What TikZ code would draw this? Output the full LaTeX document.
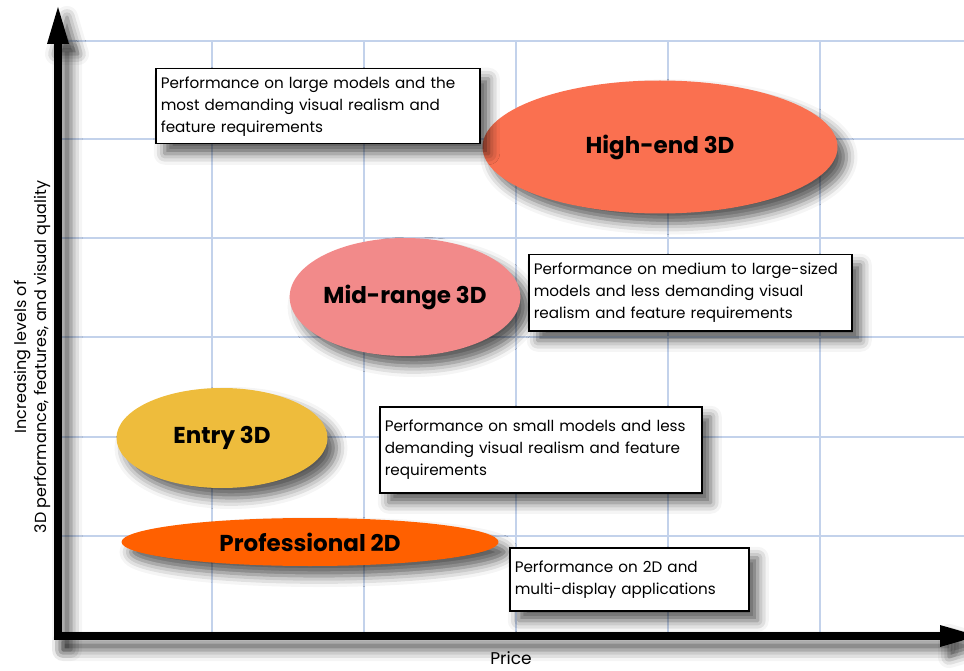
\documentclass[tikz,border=0pt]{standalone}
\usepackage{fontspec}
\setmainfont{Poppins}
\usetikzlibrary{shapes.geometric, shadows.blur}

\definecolor{gridblue}{RGB}{195,210,235}
\definecolor{highend}{RGB}{250,112,80}
\definecolor{midrange}{RGB}{242,138,138}
\definecolor{entry}{RGB}{238,188,60}
\definecolor{protwod}{RGB}{255,96,0}

\begin{document}
\begin{tikzpicture}[x=1pt, y=-1pt, thick]
    \tikzstyle{soft}=[blur shadow={shadow xshift=9pt, shadow yshift=-10pt, shadow blur radius=11pt, shadow opacity=65}]
    \tikzstyle{blob}=[ellipse, soft, inner sep=0pt, font=\fontsize{23}{26}\selectfont\bfseries]
    \tikzstyle{note}=[draw=black, line width=1.5pt, fill=white, soft, anchor=north west, align=left, inner sep=5pt, font=\fontsize{15.2}{22}\selectfont]

    \useasboundingbox (0, 0) rectangle (964, 671);

    % grid
    \foreach \y in {41, 139, 238, 337, 437, 536}
        \draw[gridblue, line width=1.5pt] (58, \y) -- (964, \y);
    \foreach \x in {212, 364, 516, 668, 820}
        \draw[gridblue, line width=1.5pt] (\x, 41) -- (\x, 636);

    % axes
    \coordinate (O) at (58, 636);
    \fill[soft] (54, 640) rectangle (62, 40);
    \fill[soft] (47, 44) -- (58, 7) -- (69, 44) -- cycle;
    \fill[soft] (54, 632) rectangle (942, 640);
    \fill[soft] (940, 625) -- (978, 636) -- (940, 647) -- cycle;

    \node[blob, fill=highend, minimum width=355, minimum height=133] at (660, 147) (high) {High-end 3D};
    \node[blob, fill=midrange, minimum width=216, minimum height=118] at (405, 297) (mid) {Mid-range 3D};
    \node[blob, fill=entry, minimum width=211, minimum height=100] at (222, 438) (entry) {Entry 3D};
    \node[blob, fill=protwod, minimum width=377, minimum height=48] at (310, 542) (pro) {Professional 2D};

    \node[note, text width=314, minimum height=75] at (155, 68) (hightext)
        {Performance on large models and the\\most demanding visual realism and\\feature requirements};
    \node[note, text width=313, minimum height=76] at (528, 254) (midtext)
        {Performance on medium to large-sized\\models and less demanding visual\\realism and feature requirements};
    \node[note, text width=312, minimum height=86] at (379, 406) (entrytext)
        {Performance on small models and less\\demanding visual realism and feature\\requirements};
    \node[note, text width=229, minimum height=63] at (509, 547) (protext)
        {Performance on 2D and\\multi-display applications};

    \node[font=\fontsize{17}{20}\selectfont] at (511, 658) (price) {Price};
    \node[rotate=90, align=center, font=\fontsize{16}{20}\selectfont] at (32, 357) (quality)
        {Increasing levels of\\3D performance, features, and visual quality};
\end{tikzpicture}
\end{document}
